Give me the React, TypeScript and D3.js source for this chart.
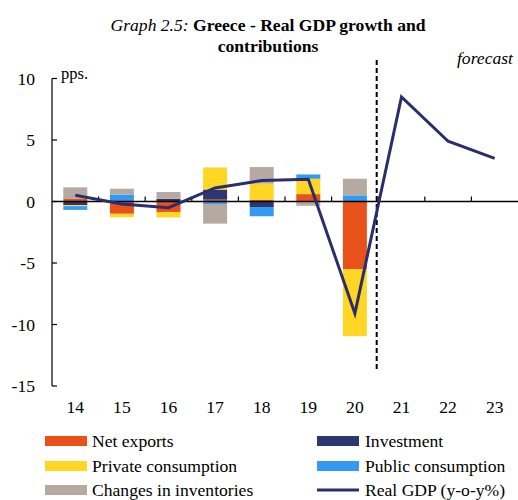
import React from "react";
import * as d3 from "d3";

const years = ["14", "15", "16", "17", "18", "19", "20", "21", "22", "23"];
const barYears = ["14", "15", "16", "17", "18", "19", "20"];
const netExports = [0.25, -1.0, -0.85, 0.15, 0.15, 0.6, -5.5];
const investment = [-0.3, 0.0, 0.22, 0.82, -0.45, 0.0, 0.0];
const privateConsumption = [-0.08, -0.27, -0.45, 1.8, 1.3, 1.25, -5.45];
const publicConsumption = [-0.3, 0.57, 0.0, -0.2, -0.75, 0.35, 0.5];
const inventories = [0.9, 0.47, 0.55, -1.6, 1.35, -0.35, 1.35];
const realGDP = [0.5, -0.2, -0.5, 1.1, 1.7, 1.8, -9.1, 8.5, 4.9, 3.5];
const yTicks = [10, 5, 0, -5, -10, -15];

const seriesKeys = ["nx", "inv", "pc", "pub", "chg"];
const seriesNames: Record<string, string> = {
  nx: "Net exports",
  inv: "Investment",
  pc: "Private consumption",
  pub: "Public consumption",
  chg: "Changes in inventories",
};
const colors: Record<string, string> = {
  nx: "#E8511A",
  inv: "#2E3672",
  pc: "#FFD624",
  pub: "#3399F3",
  chg: "#B6A9A1",
};
const lineColor = "#2B2E6A";

const W = 518;
const H = 500;
const FONT = "'Liberation Serif', 'Times New Roman', serif";
const FS = 17.6;

export default function App() {
  const x = d3
    .scaleBand<string>()
    .domain(years)
    .range([52, 518])
    .paddingInner(0.485)
    .paddingOuter(0.2425);
  const y = d3.scaleLinear().domain([-15, 10]).range([386, 78.5]);
  const step = x.step();

  const table = barYears.map((yr, i) => ({
    year: yr,
    nx: netExports[i],
    inv: investment[i],
    pc: privateConsumption[i],
    pub: publicConsumption[i],
    chg: inventories[i],
  }));
  const stacked = d3
    .stack<any>()
    .keys(seriesKeys)
    .offset(d3.stackOffsetDiverging)(table);

  const line = d3
    .line<number>()
    .x((_, i) => (x(years[i]) as number) + x.bandwidth() / 2)
    .y((d) => y(d));

  const dashX = (x("20") as number) + x.bandwidth() + (step - x.bandwidth()) / 2 - 1.5;

  const legendLeft = [
    { key: "nx", y: 441 },
    { key: "pc", y: 466 },
    { key: "chg", y: 490 },
  ];
  const legendRight = [
    { key: "inv", y: 441 },
    { key: "pub", y: 466 },
    { key: "gdp", y: 490 },
  ];

  return (
    <svg
      width={W}
      height={H}
      style={{ position: "absolute", left: 0, top: 0, background: "#fff" }}
      fontFamily={FONT}
    >
      <rect x={0} y={0} width={W} height={H} fill="#fff" />
      {/* title */}
      <text x={268} y={31} textAnchor="middle" fontSize={FS} fill="#000">
        <tspan fontStyle="italic">Graph 2.5: </tspan>
        <tspan fontWeight="bold">Greece - Real GDP growth and</tspan>
      </text>
      <text x={268} y={52} textAnchor="middle" fontSize={FS} fontWeight="bold" fill="#000">
        contributions
      </text>
      <text x={513} y={64} textAnchor="end" fontSize={FS} fontStyle="italic" fill="#000">
        forecast
      </text>
      <text x={61} y={79} fontSize={16.5} fill="#000">
        pps.
      </text>

      {/* bars */}
      {stacked.map((s) =>
        s.map((d, i) => {
          const y0 = y(d[0]);
          const y1 = y(d[1]);
          return (
            <rect
              key={s.key + i}
              x={x(barYears[i]) as number}
              width={x.bandwidth()}
              y={Math.min(y0, y1)}
              height={Math.abs(y0 - y1)}
              fill={colors[s.key]}
            />
          );
        })
      )}

      {/* y axis */}
      <line x1={52} x2={52} y1={y(10)} y2={y(-15)} stroke="#000" strokeWidth={1.2} />
      {yTicks.map((t) => (
        <g key={t}>
          <line x1={52} x2={57} y1={y(t)} y2={y(t)} stroke="#000" strokeWidth={1.2} />
          <text
            x={35}
            y={y(t)}
            dy="0.35em"
            textAnchor="end"
            fontSize={FS}
            fill="#000"
          >
            {t}
          </text>
        </g>
      ))}

      {/* zero line */}
      <line x1={52} x2={518} y1={y(0)} y2={y(0)} stroke="#000" strokeWidth={1.5} />
      {years.slice(1).map((yr) => {
        const bx = (x(yr) as number) - (step - x.bandwidth()) / 2;
        return (
          <line key={yr} x1={bx} x2={bx} y1={y(0)} y2={y(0) - 5} stroke="#000" strokeWidth={1.2} />
        );
      })}

      {/* x labels */}
      {years.map((yr) => (
        <text
          key={yr}
          x={(x(yr) as number) + x.bandwidth() / 2}
          y={413}
          textAnchor="middle"
          fontSize={FS}
          fill="#000"
        >
          {yr}
        </text>
      ))}

      {/* forecast divider */}
      <line
        x1={dashX}
        x2={dashX}
        y1={60}
        y2={369}
        stroke="#000"
        strokeWidth={2}
        strokeDasharray="5,3"
      />

      {/* GDP line */}
      <path d={line(realGDP) || ""} fill="none" stroke={lineColor} strokeWidth={3} strokeLinejoin="miter" />

      {/* legend */}
      {legendLeft.map((l) => (
        <g key={l.key}>
          <rect x={45} y={l.y - 5} width={42} height={10} fill={colors[l.key]} />
          <text x={92} y={l.y} dy="0.35em" fontSize={FS} fill="#000">
            {seriesNames[l.key]}
          </text>
        </g>
      ))}
      {legendRight.map((l) =>
        l.key === "gdp" ? (
          <g key={l.key}>
            <line x1={317} x2={359} y1={l.y} y2={l.y} stroke={lineColor} strokeWidth={3} />
            <text x={365} y={l.y} dy="0.35em" fontSize={FS} fill="#000">
              Real GDP (y-o-y%)
            </text>
          </g>
        ) : (
          <g key={l.key}>
            <rect x={317} y={l.y - 5} width={42} height={10} fill={colors[l.key]} />
            <text x={365} y={l.y} dy="0.35em" fontSize={FS} fill="#000">
              {seriesNames[l.key]}
            </text>
          </g>
        )
      )}
    </svg>
  );
}
